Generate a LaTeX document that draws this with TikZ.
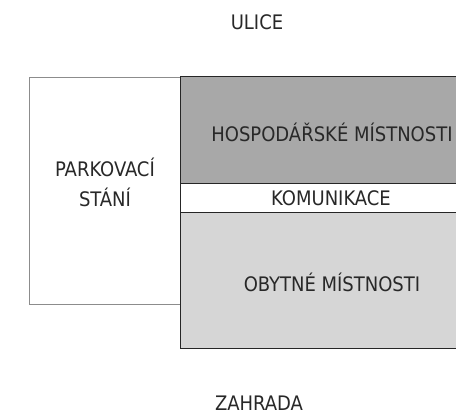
\documentclass[tikz,border=0pt]{standalone}
\usepackage{fontspec}
\setmainfont{DejaVu Sans Condensed}
\definecolor{darkfill}{RGB}{168,168,168}
\definecolor{lightfill}{RGB}{214,214,214}
\definecolor{txt}{RGB}{40,40,40}
\definecolor{thinline}{RGB}{140,140,140}
\begin{document}
\begin{tikzpicture}[x=1pt,y=1pt,
  lbl/.style={text=txt,font=\fontsize{20}{30}\selectfont,inner sep=0pt,align=center},
  room/.style={draw=black!85,line width=1pt}]
\useasboundingbox (0,0) rectangle (456,414);
\clip (0,0) rectangle (456,414);
% parking
\draw[thinline,line width=0.8pt,fill=white] (29,110) rectangle (180,337);
\node[lbl] (park) at (105,232) {PARKOVACÍ\\STÁNÍ};
% rooms
\draw[room,fill=darkfill] (180,230) rectangle (460,337);
\draw[room,fill=white] (180,201) rectangle (460,230);
\draw[room,fill=lightfill] (180,65) rectangle (460,201);
\node[lbl] (hosp) at (332,282) {HOSPODÁŘSKÉ MÍSTNOSTI};
\node[lbl] (kom) at (331,216) {KOMUNIKACE};
\node[lbl] (oby) at (332,132) {OBYTNÉ MÍSTNOSTI};
\node[lbl] (ulice) at (257,392) {ULICE};
\node[lbl] (zahr) at (259,11) {ZAHRADA};
\end{tikzpicture}
\end{document}
